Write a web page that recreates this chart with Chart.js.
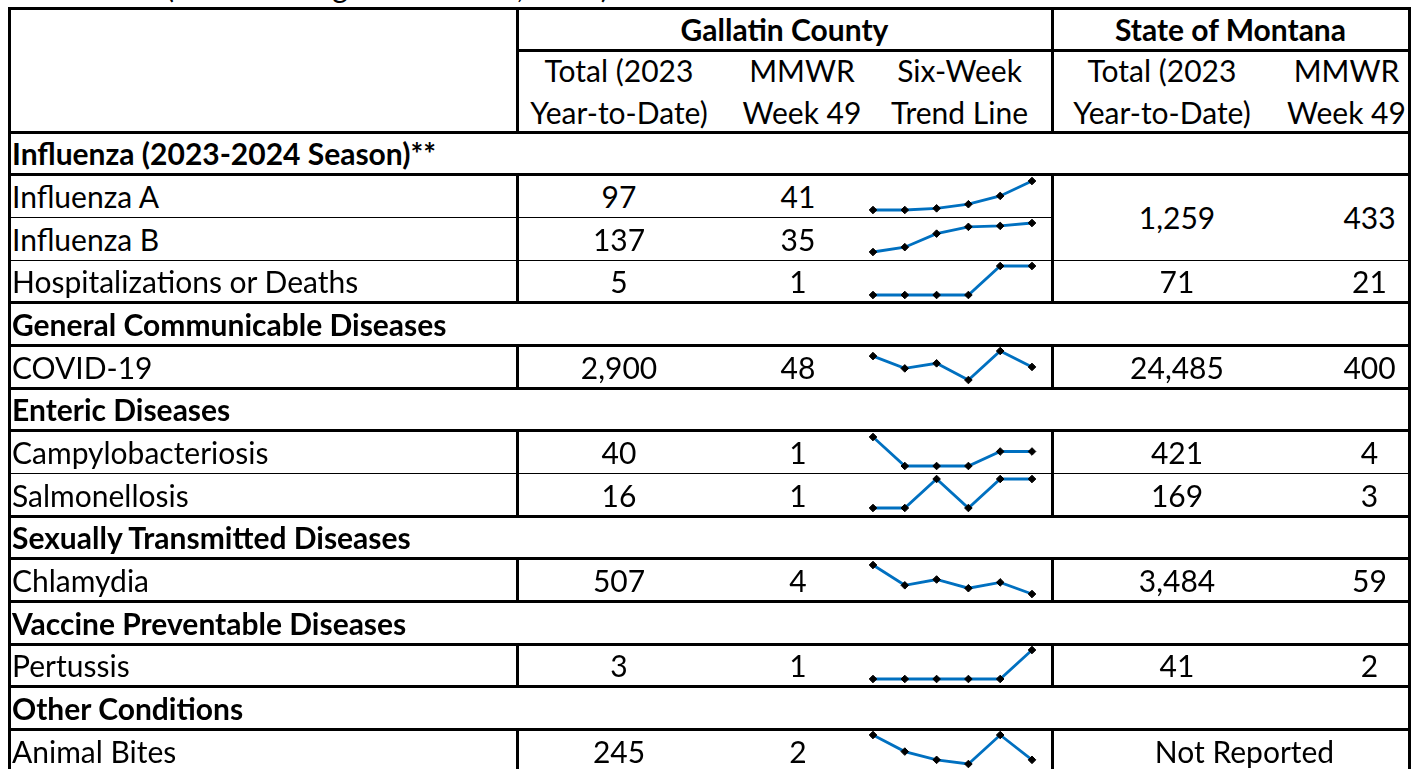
<!DOCTYPE html>
<html>
<head>
<meta charset="utf-8">
<script src="https://cdn.jsdelivr.net/npm/chart.js@4.4.0/dist/chart.umd.min.js"></script>
<style>
  html, body { margin: 0; padding: 0; background: #fff; overflow: hidden; }
  body { width: 1411px; height: 769px; position: relative; font-family: Lato, "Liberation Sans", sans-serif; font-size: 30px; color: #000; }
  .cell { position: absolute; display: flex; align-items: center; justify-content: center; white-space: nowrap; box-sizing: border-box; }
  .left { justify-content: flex-start; padding-left: 2px; }
  .b { font-weight: bold; }
  .two { line-height: 42px; text-align: center; }
  .ln { position: absolute; background: #000; }
  canvas { position: absolute; }
  #title { position: absolute; left: 166px; top: -29px; line-height: 30px; white-space: nowrap; }
</style>
</head>
<body>
<div id="title">(Week Ending December 9, 2023)</div>
<script>
const sectionNames = [
  "Influenza (2023-2024 Season)**",
  "General Communicable Diseases",
  "Enteric Diseases",
  "Sexually Transmitted Diseases",
  "Vaccine Preventable Diseases",
  "Other Conditions",
];
const sectionOf = [0, 0, 0, 1, 2, 2, 3, 4, 5];
const diseases = [
  "Influenza A", "Influenza B", "Hospitalizations or Deaths", "COVID-19",
  "Campylobacteriosis", "Salmonellosis", "Chlamydia", "Pertussis", "Animal Bites",
];
const countyTotal = ["97", "137", "5", "2,900", "40", "16", "507", "3", "245"];
const countyWeek = ["41", "35", "1", "48", "1", "1", "4", "1", "2"];
// null = merged with the cell above / to the left
const stateTotal = ["1,259", null, "71", "24,485", "421", "169", "3,484", "41", "Not Reported"];
const stateWeek = ["433", null, "21", "400", "4", "3", "59", "2", null];
const weekLabels = ["Week 44", "Week 45", "Week 46", "Week 47", "Week 48", "Week 49"];
const sixWeekTrend = [
  [6, 6, 8, 13, 23, 41],
  [5, 10, 24, 31, 32, 35],
  [0, 0, 0, 0, 1, 1],
  [63, 46, 53, 30, 70, 48],
  [2, 0, 0, 0, 1, 1],
  [0, 0, 1, 0, 1, 1],
  [14, 7, 9, 6, 8, 4],
  [0, 0, 0, 0, 0, 1],
  [8, 4, 2, 1, 8, 2],
];

// layout
const colX = [9, 517, 721, 875, 1052, 1272, 1409];
const rowH = 42.67;
const bodyTop = 132;
const lineColor = "#0070c0";

function el(cls, x, y, w, h, html) {
  const d = document.createElement("div");
  d.className = cls;
  Object.assign(d.style, { left: x + "px", top: y + "px", width: w + "px", height: h + "px" });
  if (html != null) d.innerHTML = html;
  document.body.appendChild(d);
  return d;
}
const hline = (y, x0, x1, w) => el("ln", x0 - 1.5, Math.round(y - w / 2), x1 - x0 + 3, w);
const vline = (x, y0, y1, w) => el("ln", Math.round(x - w / 2), y0 - 1.5, w, y1 - y0 + 3);

// header
el("cell b", colX[1], 8, colX[4] - colX[1], 42, "Gallatin County");
el("cell b", colX[4], 8, colX[6] - colX[4], 42, "State of Montana");
el("cell two", colX[1], 50, colX[2] - colX[1], 82, "Total (2023<br>Year-to-Date)");
el("cell two", colX[2] + 4, 50, colX[3] - colX[2], 82, "MMWR<br>Week 49");
el("cell two", colX[3] - 4, 50, colX[4] - colX[3], 82, "Six-Week<br>Trend Line");
el("cell two", colX[4], 50, colX[5] - colX[4], 82, "Total (2023<br>Year-to-Date)");
el("cell two", colX[5] + 6, 50, colX[6] - colX[5], 82, "MMWR<br>Week 49");

hline(8.5, colX[0], colX[6], 3);
hline(50.5, colX[1], colX[6], 3);
hline(bodyTop, colX[0], colX[6], 3);
vline(colX[1], 8, bodyTop, 3);
vline(colX[4], 8, bodyTop, 3);

// body rows
const rows = [];
sectionOf.forEach((s, i) => {
  if (i === 0 || sectionOf[i - 1] !== s) rows.push({ section: s });
  rows.push({ d: i });
});

rows.forEach((r, k) => {
  const y = bodyTop + k * rowH;
  const yb = y + rowH;
  if (r.section != null) {
    el("cell left b", colX[0] + 1, y, colX[6] - colX[0], rowH, sectionNames[r.section]);
    hline(yb, colX[0], colX[6], 3);
    return;
  }
  const i = r.d;
  el("cell left", colX[0] + 1, y, colX[1] - colX[0], rowH, diseases[i]);
  el("cell", colX[1], y, colX[2] - colX[1], rowH, countyTotal[i]);
  el("cell", colX[2], y, colX[3] - colX[2], rowH, countyWeek[i]);
  if (stateTotal[i] != null) {
    const span = stateTotal[i + 1] === null ? 2 : 1;
    if (stateWeek[i] === null) {
      const c = el("cell", colX[4], y, colX[6] - colX[4], rowH * span, stateTotal[i]);
      c.style.paddingLeft = "28px";
    } else {
      const a = el("cell", colX[4], y, colX[5] - colX[4], rowH * span, stateTotal[i]);
      a.style.paddingLeft = "30px";
      const b = el("cell", colX[5], y, colX[6] - colX[5], rowH * span, stateWeek[i]);
      b.style.paddingLeft = "58px";
    }
  }
  vline(colX[1], y, yb, 3);
  vline(colX[4], y, yb, 3);

  const next = rows[k + 1];
  if (!next || next.section != null) {
    hline(yb, colX[0], colX[6], 3);
  } else {
    const end = stateTotal[i + 1] === null ? colX[4] : colX[6];
    hline(yb, colX[0], end, 1);
  }

  // six-week trend sparkline
  const cv = document.createElement("canvas");
  cv.width = 180;
  cv.height = 43;
  Object.assign(cv.style, { left: "863px", top: Math.round(y) + "px", width: "180px", height: "43px" });
  document.body.appendChild(cv);
  const vals = sixWeekTrend[i];
  new Chart(cv, {
    type: "line",
    data: {
      labels: weekLabels,
      datasets: [
        {
          data: vals,
          borderColor: lineColor,
          borderWidth: 2.8,
          tension: 0,
          pointStyle: "rectRot",
          pointRadius: 3.8,
          pointBackgroundColor: "#000",
          pointBorderColor: "#000",
          pointBorderWidth: 1,
          clip: false,
        },
      ],
    },
    options: {
      responsive: false,
      animation: false,
      devicePixelRatio: 1,
      layout: { padding: { left: 10, right: 11, top: 6, bottom: 8 } },
      plugins: { legend: { display: false }, tooltip: { enabled: false } },
      scales: {
        x: { display: false, offset: false },
        y: { display: false, min: Math.min(...vals), max: Math.max(...vals) },
      },
    },
  });
});

// outer borders
vline(colX[0], 8, 772, 3);
vline(colX[6], 8, 772, 3);
</script>
</body>
</html>
